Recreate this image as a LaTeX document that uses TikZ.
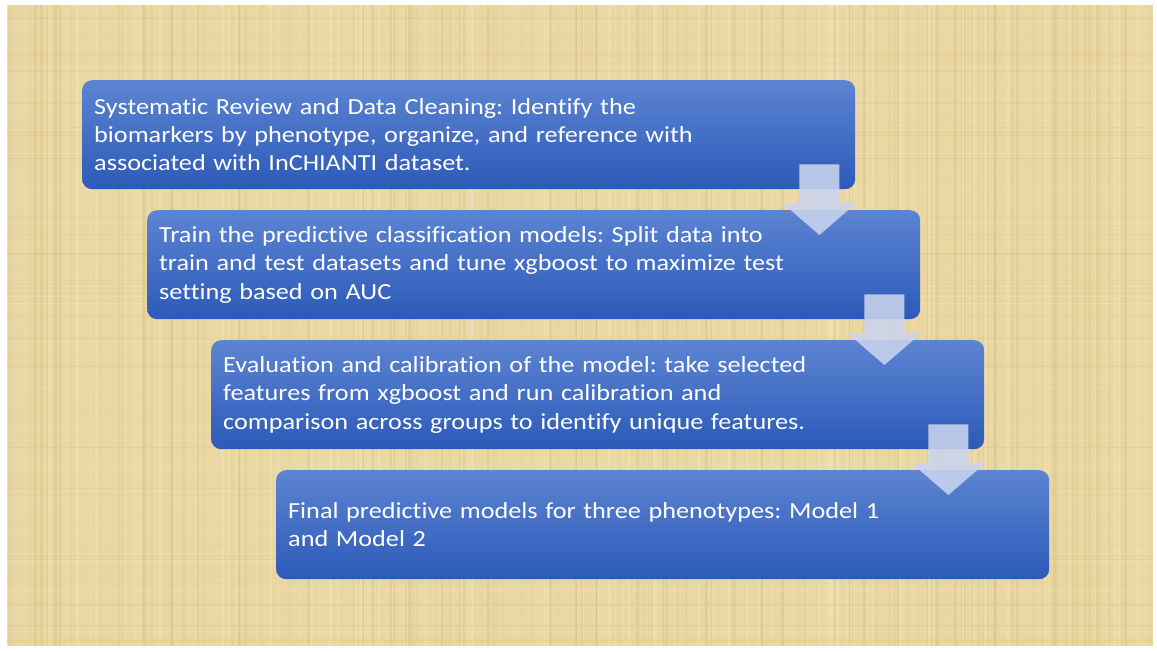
\documentclass[tikz,border=0pt]{standalone}
\usepackage{fontspec}
\setmainfont{Carlito}[Ligatures=NoCommon, FakeStretch=1.14]
\usetikzlibrary{calc}
\definecolor{papyrus}{RGB}{234,215,163}
\definecolor{papdark}{RGB}{214,190,126}
\definecolor{paplight}{RGB}{246,233,195}
\definecolor{boxtop}{RGB}{92,132,210}
\definecolor{boxbot}{RGB}{44,90,184}
\definecolor{arrowcol}{RGB}{202,212,238}
\tikzset{
  stepbox/.style={rounded corners=10pt, top color=boxtop, bottom color=boxbot,
    draw=none, minimum width=773pt, minimum height=109pt, text width=749pt,
    inner xsep=12pt, inner ysep=0pt, align=left, anchor=north west,
    text=white, font=\fontsize{23}{28.3}\selectfont\frenchspacing},
  flowarrow/.style={fill=arrowcol, fill opacity=0.88, draw=none}
}
\newcommand{\downarrowshape}[2]{%
  \fill[flowarrow] ($(#1)+(-20,0)$) -- ($(#1)+(20,0)$) -- ($(#2)+(20,-32)$)
    -- ($(#2)+(37,-32)$) -- (#2) -- ($(#2)+(-37,-32)$) -- ($(#2)+(-20,-32)$) -- cycle;}
\begin{document}
\begin{tikzpicture}[x=1pt,y=-1pt]
\useasboundingbox (0,0) rectangle (1157,652);
\fill[white] (0,0) rectangle (1157,652);
% papyrus background
\fill[papyrus] (7,5) rectangle (1153,646);
\begin{scope}
\clip (7,5) rectangle (1153,646);
\pgfmathsetseed{11}
\foreach \i in {1,...,320}{
  \pgfmathsetmacro\xx{7+rnd*1146}
  \pgfmathsetmacro\ww{0.5+rnd*2.5}
  \pgfmathsetmacro\oo{0.12+rnd*0.3}
  \pgfmathsetmacro\cc{rnd}
  \ifdim\cc pt<0.5pt
    \fill[papdark, opacity=\oo] (\xx,5) rectangle (\xx+\ww,646);
  \else
    \fill[paplight, opacity=\oo] (\xx,5) rectangle (\xx+\ww,646);
  \fi
}
\foreach \i in {1,...,200}{
  \pgfmathsetmacro\yy{5+rnd*641}
  \pgfmathsetmacro\ww{0.4+rnd*1.2}
  \pgfmathsetmacro\oo{0.06+rnd*0.14}
  \pgfmathsetmacro\cc{rnd}
  \ifdim\cc pt<0.5pt
    \fill[papdark, opacity=\oo] (7,\yy) rectangle (1153,\yy+\ww);
  \else
    \fill[paplight, opacity=\oo] (7,\yy) rectangle (1153,\yy+\ww);
  \fi
}
\end{scope}
% boxes
\node[stepbox] (b1) at (82,80) {Systematic Review and Data Cleaning: Identify the\\
biomarkers by phenotype, organize, and reference with\\
associated with InCHIANTI dataset.};
\node[stepbox] (b2) at (147,210) {Train the predictive classification models: Split data into\\
train and test datasets and tune xgboost to maximize test\\
setting based on AUC};
\node[stepbox] (b3) at (211,340) {Evaluation and calibration of the model: take selected\\
features from xgboost and run calibration and\\
comparison across groups to identify unique features.};
\node[stepbox] (b4) at (276,470) {Final predictive models for three phenotypes: Model 1\\
and Model 2};
% arrows
\coordinate (a1s) at ($(b1.south east)+(-36,-25)$);
\coordinate (a1t) at ($(a1s |- b2.north)+(0,25)$);
\coordinate (a2s) at ($(b2.south east)+(-36,-25)$);
\coordinate (a2t) at ($(a2s |- b3.north)+(0,25)$);
\coordinate (a3s) at ($(b3.south east)+(-36,-25)$);
\coordinate (a3t) at ($(a3s |- b4.north)+(0,25)$);
\downarrowshape{a1s}{a1t}
\downarrowshape{a2s}{a2t}
\downarrowshape{a3s}{a3t}
\end{tikzpicture}
\end{document}
